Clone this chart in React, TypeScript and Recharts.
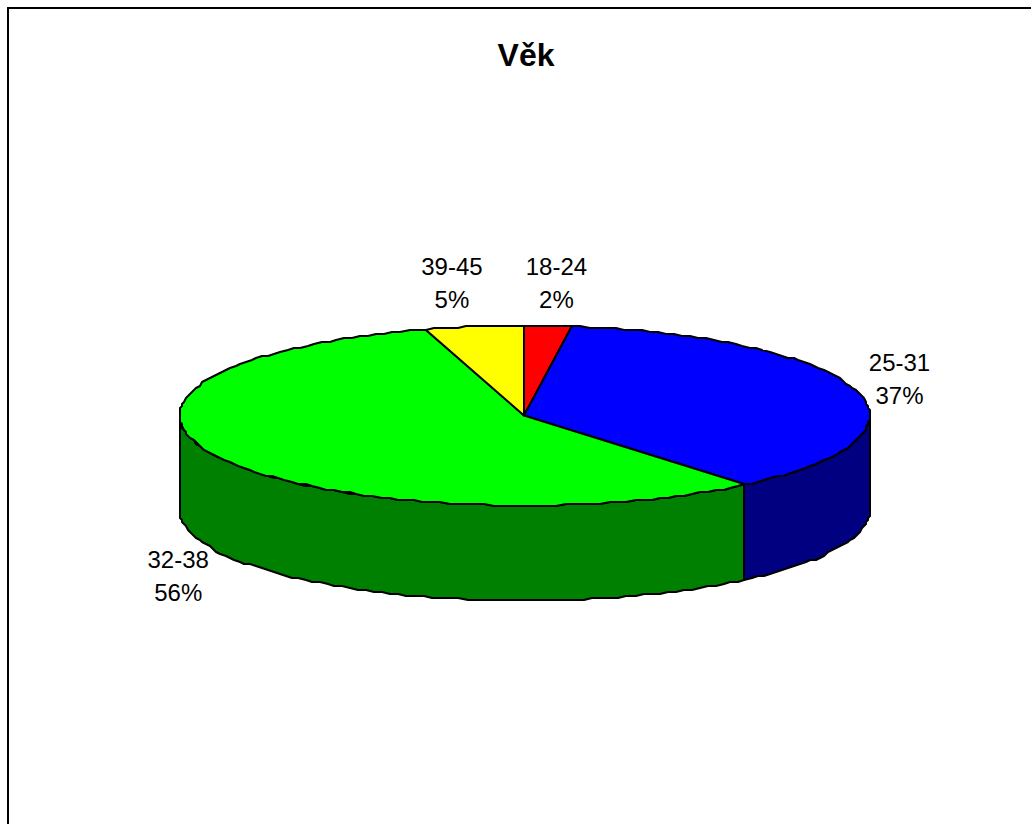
import React from "react";
import { PieChart, Pie, Cell } from "recharts";

const ageGroups = ["18-24", "25-31", "32-38", "39-45"];
const shares = [2.2, 36.8, 56.4, 4.6];
const topColors = ["#FF0000", "#0000FF", "#00FF00", "#FFFF00"];
const sideColors = ["#800000", "#000080", "#008000", "#808000"];
// hand placed label nudges, same order as ageGroups
const labelNudges = [
  [8, -43],
  [43, -12],
  [-42, 118],
  [-23, -43],
];

const data = ageGroups.map((name, i) => ({ name, value: shares[i] }));

const FLATTEN = 90 / 345; // ellipse ry / rx
const DEPTH = 95;
const GRID = 2; // the original outline is a bit stair-stepped
const RAD = Math.PI / 180;

const snap = (v: number) => Math.round(v / GRID) * GRID;

function arc(cx: number, cy: number, r: number, from: number, to: number) {
  const steps = Math.max(1, Math.ceil(Math.abs(from - to) / 1.5));
  const pts: string[] = [];
  for (let i = 0; i <= steps; i++) {
    const a = (from + ((to - from) * i) / steps) * RAD;
    pts.push(`${snap(cx + r * Math.cos(a))},${snap(cy - r * FLATTEN * Math.sin(a))}`);
  }
  return pts;
}

function Slice(props: any) {
  const { cx, cy, outerRadius, startAngle, endAngle, index } = props;
  const hi = Math.min(startAngle, 0);
  const lo = Math.max(endAngle, -180);
  let side = null;
  if (hi > lo) {
    const upper = arc(cx, cy, outerRadius, hi, lo);
    const lower = arc(cx, cy + DEPTH, outerRadius, lo, hi);
    side = (
      <polygon
        points={[...upper, ...lower].join(" ")}
        fill={sideColors[index]}
        stroke="#000"
        strokeWidth={2}
        strokeLinejoin="round"
      />
    );
  }
  const top = [`${snap(cx)},${cy}`, ...arc(cx, cy, outerRadius, startAngle, endAngle)];
  return (
    <g>
      {side}
      <polygon
        points={top.join(" ")}
        fill={topColors[index]}
        stroke="#000"
        strokeWidth={2}
        strokeLinejoin="round"
      />
    </g>
  );
}

function SliceLabel(props: any) {
  const { cx, cy, outerRadius, midAngle, index } = props;
  const x = cx + outerRadius * Math.cos(midAngle * RAD) + labelNudges[index][0];
  const y = cy - outerRadius * FLATTEN * Math.sin(midAngle * RAD) + labelNudges[index][1];
  return (
    <text x={x} textAnchor="middle" fontFamily="Liberation Sans" fontSize={24} fill="#000">
      <tspan x={x} y={y - 8}>
        {ageGroups[index]}
      </tspan>
      <tspan x={x} y={y + 25}>
        {Math.round(shares[index])}%
      </tspan>
    </text>
  );
}

export default function App() {
  return (
    <div style={{ position: "absolute", left: 0, top: 0, width: 1031, height: 824, background: "#fff", overflow: "hidden" }}>
      <div style={{ position: "absolute", left: 7, top: 7, right: 0, bottom: 0, borderLeft: "2px solid #000", borderTop: "2px solid #000" }} />
      <div style={{ position: "absolute", left: 0, top: 0 }}>
        <PieChart width={1031} height={824} margin={{ top: 0, right: 0, bottom: 0, left: 0 }}>
          <text x={526} y={66} textAnchor="middle" fontFamily="Liberation Sans" fontWeight="bold" fontSize={32} fill="#000">
            Věk
          </text>
          <Pie
            data={data}
            dataKey="value"
            nameKey="name"
            cx={524.6}
            cy={415.5}
            innerRadius={0}
            outerRadius={345}
            startAngle={90}
            endAngle={-270}
            paddingAngle={0}
            stroke="#000"
            shape={Slice}
            label={SliceLabel}
            labelLine={false}
            isAnimationActive={false}
          >
            {data.map((d, i) => (
              <Cell key={d.name} fill={topColors[i]} />
            ))}
          </Pie>
        </PieChart>
      </div>
    </div>
  );
}
